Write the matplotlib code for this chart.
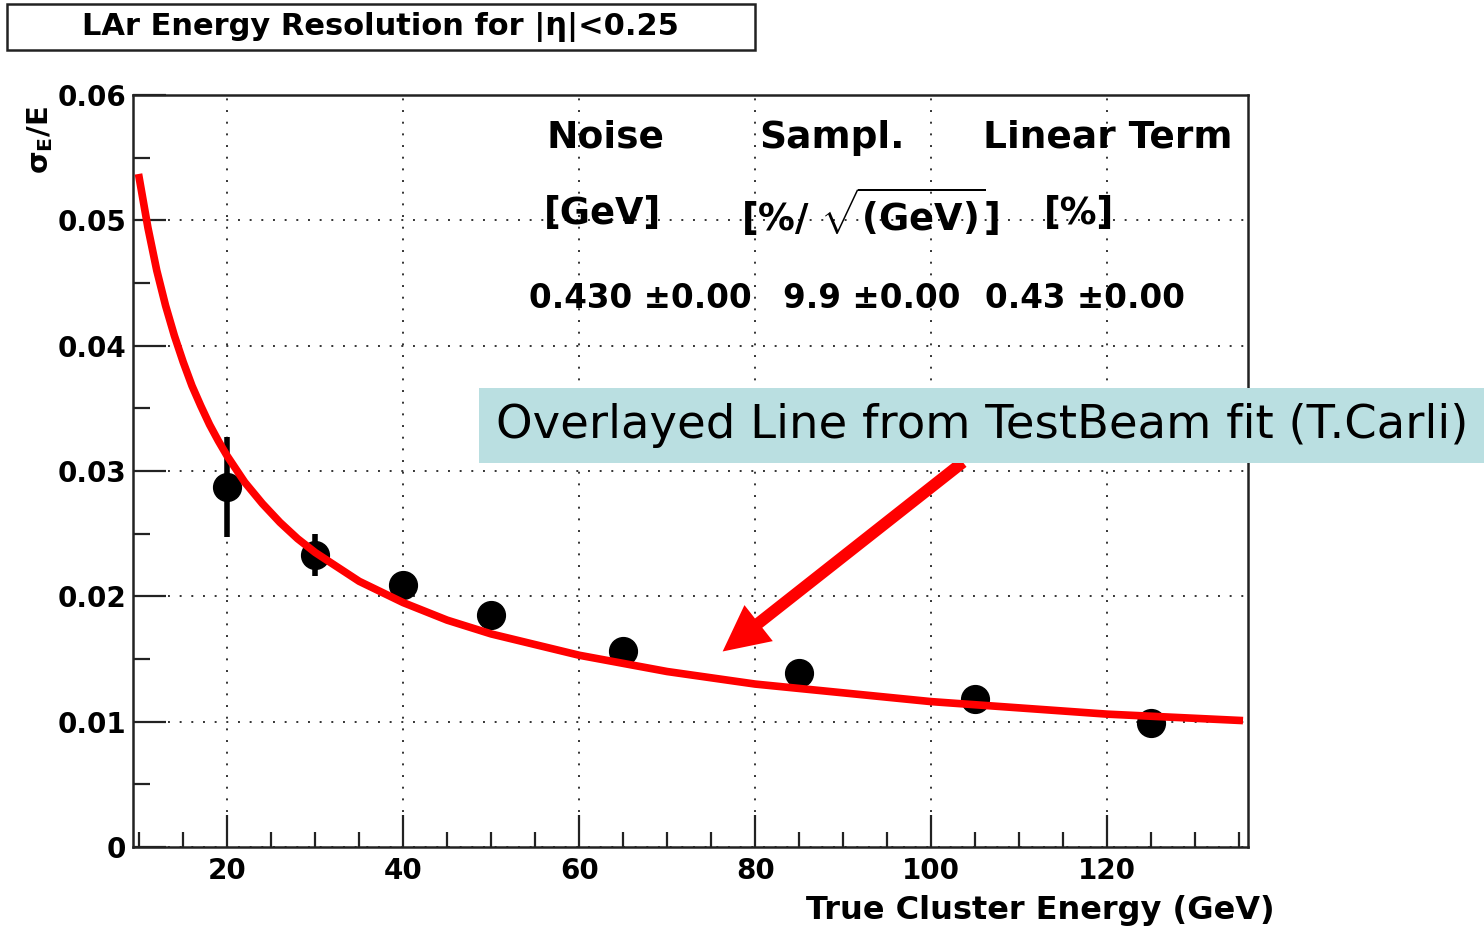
import matplotlib
matplotlib.use("Agg")
import matplotlib.pyplot as plt
from matplotlib.patches import Rectangle
from matplotlib.ticker import MultipleLocator, FixedLocator, FuncFormatter

# measured resolution points
energy = [20, 30, 40, 50, 65, 85, 105, 125]
resolution = [0.0287, 0.0233, 0.0209, 0.0185, 0.0156, 0.0139, 0.0118, 0.0099]
res_err = [0.0040, 0.0017, 0.0008, 0.0005, 0.0005, 0.0005, 0.0005, 0.0005]

# overlayed testbeam fit curve
fit_energy = [10, 11, 12, 13, 14, 15, 16, 17, 18, 19, 20, 22, 24, 26, 28, 30,
              35, 40, 45, 50, 60, 70, 80, 90, 100, 110, 120, 135]
fit_res = [0.0534, 0.0494, 0.0460, 0.0432, 0.0408, 0.0387, 0.0368, 0.0352,
           0.0337, 0.0324, 0.0312, 0.0291, 0.0274, 0.0259, 0.0246, 0.0235,
           0.0212, 0.0195, 0.0181, 0.0170, 0.0153, 0.0140, 0.0130, 0.0123,
           0.0116, 0.0111, 0.0106, 0.0101]

fit_headers = ["Noise", "Sampl.", "Linear Term"]
fit_units = ["[GeV]", r"[%/ $\sqrt{\mathrm{(GeV)}}$]", "[%]"]
fit_values = ["0.430 \u00b10.00", "9.9 \u00b10.00", "0.43 \u00b10.00"]

title = "LAr Energy Resolution for |\u03b7|<0.25"
note = "Overlayed Line from TestBeam fit (T.Carli)"

plt.rcParams["font.family"] = ["DejaVu Sans"]
plt.rcParams["font.weight"] = "bold"
plt.rcParams["mathtext.fontset"] = "custom"
plt.rcParams["mathtext.rm"] = "DejaVu Sans:bold"
plt.rcParams["mathtext.it"] = "DejaVu Sans:bold"
plt.rcParams["mathtext.bf"] = "DejaVu Sans:bold"

W, H = 1484, 931
fig = plt.figure(figsize=(W / 100, H / 100), dpi=100)
ax = fig.add_axes([133 / W, 84 / H, 1115 / W, 752 / H])

ax.errorbar(energy, resolution, yerr=res_err, fmt="o", color="black",
            markersize=20, elinewidth=4, capsize=0, zorder=3)
ax.plot(fit_energy, fit_res, color="red", lw=5.5, zorder=4,
        solid_joinstyle="round")

ax.set_xlim(9.3, 136)
ax.set_ylim(0, 0.06)
ax.xaxis.set_major_locator(FixedLocator([20, 40, 60, 80, 100, 120]))
ax.xaxis.set_minor_locator(MultipleLocator(5))
ax.yaxis.set_major_locator(MultipleLocator(0.01))
ax.yaxis.set_minor_locator(MultipleLocator(0.005))
ax.yaxis.set_major_formatter(FuncFormatter(lambda v, p: "0" if abs(v) < 1e-9 else f"{v:.2f}"))

ax.tick_params(which="both", direction="in", width=1.6, color="#222222",
               labelsize=20, top=False, right=False)
ax.tick_params(axis="y", which="major", length=24, pad=5)
ax.tick_params(axis="y", which="minor", length=12)
ax.tick_params(axis="x", which="major", length=23, pad=7)
ax.tick_params(axis="x", which="minor", length=11)
for lab in ax.get_xticklabels() + ax.get_yticklabels():
    lab.set_fontweight("bold")
for sp in ax.spines.values():
    sp.set_linewidth(1.8)
    sp.set_color("#222222")

ax.grid(True, which="major", color="#333333", linestyle=(0, (1, 5)), lw=1.4)

# fit parameter table
col_x = [0.424, 0.627, 0.874]
unit_x = [0.421, 0.661, 0.848]
val_x = [0.455, 0.663, 0.854]
for i in range(3):
    ax.text(col_x[i], 0.943, fit_headers[i], transform=ax.transAxes,
            ha="center", va="center", fontsize=27, fontweight="bold")
    ax.text(unit_x[i], 0.843, fit_units[i], transform=ax.transAxes,
            ha="center", va="center", fontsize=26.5, fontweight="bold")
    ax.text(val_x[i], 0.730, fit_values[i], transform=ax.transAxes,
            ha="center", va="center", fontsize=23.5, fontweight="bold")

# axis titles
fig.text(1275 / W, 1 - 910 / H, "True Cluster Energy (GeV)", ha="right",
         va="center", fontsize=23, fontweight="bold")
fig.text(40 / W, 1 - 140 / H, r"$\sigma_E$/E", rotation=90, ha="center",
         va="center", fontsize=21, fontweight="bold")

# title box
fig.patches.append(Rectangle((7 / W, 1 - 50 / H), 748 / W, 46 / H,
                             transform=fig.transFigure, fill=False,
                             edgecolor="#222222", lw=1.8))
fig.text(380 / W, 1 - 27 / H, title, ha="center", va="center",
         fontsize=22, fontweight="bold")

# overlay note and arrow
fig.patches.append(Rectangle((479 / W, 1 - 463 / H), 1005 / W, 75 / H,
                             transform=fig.transFigure, facecolor="#badfe1",
                             edgecolor="none", zorder=5))
fig.text(982 / W, 1 - 426 / H, note, ha="center", va="center", fontsize=33.5,
         fontweight="normal", family="DejaVu Sans", zorder=6)

ax.annotate("", xy=(76.3, 0.0156), xytext=(103.6, 0.0307),
            arrowprops=dict(facecolor="red", edgecolor="none", width=8.5,
                            headwidth=33, headlength=33, shrink=0),
            zorder=6, annotation_clip=False)

fig.savefig("out.png", dpi=100)
